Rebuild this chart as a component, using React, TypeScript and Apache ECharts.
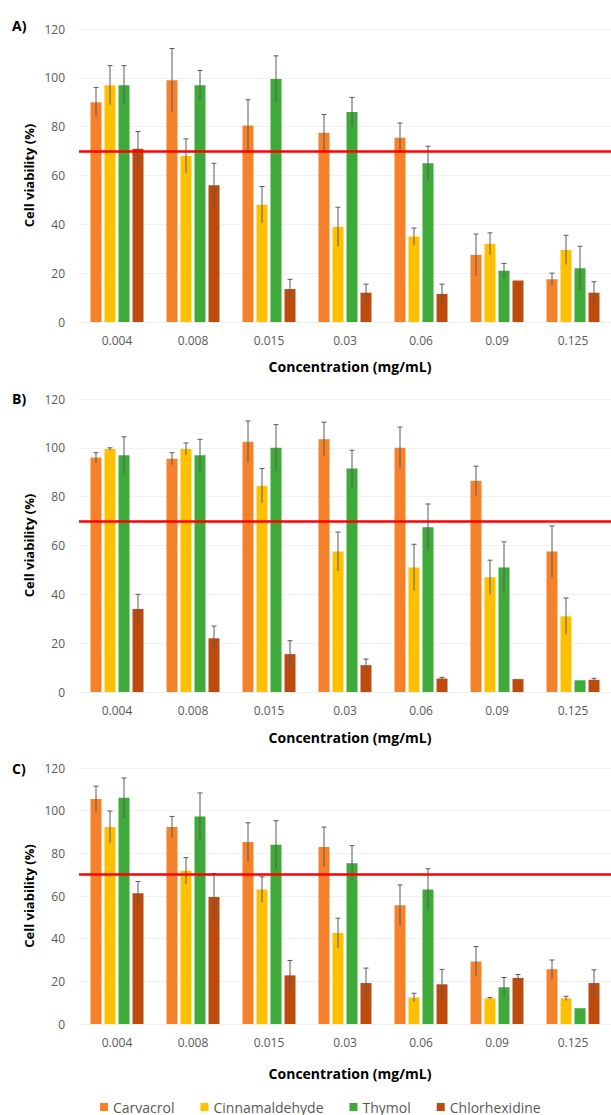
import React, { useEffect, useRef } from "react";
import * as echarts from "echarts";

const categories = ["0.004", "0.008", "0.015", "0.03", "0.06", "0.09", "0.125"];
const seriesNames = ["Carvacrol", "Cinnamaldehyde", "Thymol", "Chlorhexidine"];
const colors = ["#F5822A", "#FFC000", "#3DAA3A", "#BE4B0E"];
const threshold = 70;

// Panel A
const aCarvacrol = [90, 99, 80.5, 77.5, 75.5, 27.5, 17.5];
const aCarvacrolErr = [6, 13, 10.5, 7.5, 6, 8.5, 2.5];
const aCinnamaldehyde = [97, 68, 48, 39, 35, 32, 29.5];
const aCinnamaldehydeErr = [8, 7, 7.5, 8, 3.5, 4.5, 6];
const aThymol = [97, 97, 99.5, 86, 65, 21, 22];
const aThymolErr = [8, 6, 9.5, 6, 7, 3, 9];
const aChlorhexidine = [71, 56, 13.5, 12, 11.5, 17, 12];
const aChlorhexidineErr = [7, 9, 4, 3.5, 4, 0, 4.5];

// Panel B
const bCarvacrol = [96, 95.5, 102.5, 103.5, 100, 86.5, 57.5];
const bCarvacrolErr = [2, 2.5, 8.5, 7, 8.5, 6, 10.5];
const bCinnamaldehyde = [99.5, 99.5, 84.5, 57.5, 51, 47, 31];
const bCinnamaldehydeErr = [0.5, 2.5, 7, 8, 9.5, 7, 7.5];
const bThymol = [97, 97, 100, 91.5, 67.5, 51, 4.8];
const bThymolErr = [7.5, 6.5, 9.5, 7.5, 9.5, 10.5, 0];
const bChlorhexidine = [34, 22, 15.5, 11, 5.5, 5.3, 5];
const bChlorhexidineErr = [6, 5, 5.5, 2.5, 0.5, 0, 0.6];

// Panel C
const cCarvacrol = [105.5, 92.3, 85.3, 83, 55.7, 29.3, 25.7];
const cCarvacrolErr = [6, 5, 9, 9.3, 9.5, 7, 4.3];
const cCinnamaldehyde = [92.3, 71.8, 63, 42.6, 12.4, 12, 12];
const cCinnamaldehydeErr = [7.5, 6.2, 6, 7, 2, 0.4, 1];
const cThymol = [106, 97.3, 84, 75.4, 63, 17.2, 7.4];
const cThymolErr = [9.3, 11, 11.3, 8.2, 9.8, 4.6, 0];
const cChlorhexidine = [61.3, 59.5, 22.8, 19.2, 18.6, 21.6, 19.2];
const cChlorhexidineErr = [5.5, 11, 7, 7, 7, 1.6, 6.2];

const panelLabels = ["A)", "B)", "C)"];
const yTicks = { min: 0, max: 120, interval: 20 };
const xTitle = "Concentration (mg/mL)";
const yTitle = "Cell viability (%)";

const panels = [
  { values: [aCarvacrol, aCinnamaldehyde, aThymol, aChlorhexidine], errs: [aCarvacrolErr, aCinnamaldehydeErr, aThymolErr, aChlorhexidineErr] },
  { values: [bCarvacrol, bCinnamaldehyde, bThymol, bChlorhexidine], errs: [bCarvacrolErr, bCinnamaldehydeErr, bThymolErr, bChlorhexidineErr] },
  { values: [cCarvacrol, cCinnamaldehyde, cThymol, cChlorhexidine], errs: [cCarvacrolErr, cCinnamaldehydeErr, cThymolErr, cChlorhexidineErr] },
];

// layout (pixels)
const gridLayout = [
  { top: 29, height: 293 },
  { top: 399, height: 293 },
  { top: 768, height: 256 },
];
const xTitleY = [366, 737, 1073];
const panelLabelY = [25, 398, 768];
const BAR_W = 11;
const BAR_GAP = 3;

export default function App() {
  const ref = useRef<HTMLDivElement>(null);
  useEffect(() => {
    document.body.style.margin = "0";
    if (!ref.current) return;
    const chart = echarts.init(ref.current, undefined, { renderer: "svg" });
    const font = "'Open Sans', 'Liberation Sans', sans-serif";

    const grids = gridLayout.map((g) => ({ left: 79, right: -6, top: g.top, height: g.height }));
    const xAxes = gridLayout.map((_, i) => ({
      type: "category",
      gridIndex: i,
      data: categories,
      axisLine: { show: false },
      axisTick: { show: false },
      axisLabel: { color: "#595959", fontSize: 12, fontFamily: font, margin: 12 },
    }));
    const yAxes = gridLayout.map((_, i) => ({
      type: "value",
      gridIndex: i,
      min: yTicks.min,
      max: yTicks.max,
      interval: yTicks.interval,
      axisLine: { show: false },
      axisTick: { show: false },
      axisLabel: { color: "#595959", fontSize: 12, fontFamily: font, margin: 14 },
      splitLine: { show: true, lineStyle: { color: "#f1f1f1", width: 1 } },
    }));

    const series: any[] = [];
    const total = 4 * BAR_W + 3 * BAR_GAP;
    panels.forEach((p, pi) => {
      p.values.forEach((vals, si) => {
        series.push({
          type: "bar",
          name: seriesNames[si],
          xAxisIndex: pi,
          yAxisIndex: pi,
          data: vals,
          barWidth: BAR_W,
          barGap: `${(BAR_GAP / BAR_W) * 100}%`,
          itemStyle: { color: colors[si] },
          markLine:
            si === 0
              ? {
                  silent: true,
                  symbol: "none",
                  label: { show: false },
                  lineStyle: { color: "#FF0000", width: 2.5, type: "solid" },
                  data: [{ yAxis: threshold }],
                  z: 10,
                }
              : undefined,
        });
      });
      p.values.forEach((vals, si) => {
        const offset = -total / 2 + BAR_W / 2 + si * (BAR_W + BAR_GAP);
        series.push({
          type: "custom",
          name: seriesNames[si] + " err",
          xAxisIndex: pi,
          yAxisIndex: pi,
          z: 5,
          silent: true,
          data: vals.map((v, i) => [i, v, p.errs[si][i]]),
          encode: { x: 0, y: 1 },
          renderItem: (params: any, api: any) => {
            const idx = api.value(0);
            const v = api.value(1);
            const e = api.value(2);
            if (!e || e <= 0.1) return null;
            const c = api.coord([idx, v]);
            const x = c[0] + offset;
            const yTop = api.coord([idx, v + e])[1];
            const yBot = api.coord([idx, Math.max(0, v - e)])[1];
            const style = { stroke: "#5a5a5a", lineWidth: 1 };
            return {
              type: "group",
              children: [
                { type: "line", shape: { x1: x, y1: yTop, x2: x, y2: yBot }, style },
                { type: "line", shape: { x1: x - 2.5, y1: yTop, x2: x + 2.5, y2: yTop }, style },
              ],
            };
          },
        });
      });
    });

    const graphics: any[] = [];
    gridLayout.forEach((g, i) => {
      graphics.push({
        type: "text",
        x: 12,
        y: panelLabelY[i],
        style: { text: panelLabels[i], font: `bold 14px ${font}`, fill: "#000", align: "left", verticalAlign: "middle", textAlign: "left", textVerticalAlign: "middle" },
      });
      graphics.push({
        type: "text",
        x: 29,
        y: g.top + g.height / 2,
        rotation: Math.PI / 2,
        style: { text: yTitle, font: `bold 13px ${font}`, fill: "#000", align: "center", verticalAlign: "middle", textAlign: "center", textVerticalAlign: "middle" },
      });
      graphics.push({
        type: "text",
        x: 350,
        y: xTitleY[i],
        style: { text: xTitle, font: `bold 14px ${font}`, fill: "#000", align: "center", verticalAlign: "middle", textAlign: "center", textVerticalAlign: "middle" },
      });
    });

    chart.setOption({
      animation: false,
      backgroundColor: "#ffffff",
      grid: grids,
      xAxis: xAxes,
      yAxis: yAxes,
      legend: {
        data: seriesNames,
        left: 100,
        top: 1100,
        padding: 0,
        itemWidth: 8,
        itemHeight: 8,
        itemGap: 26,
        icon: "rect",
        textStyle: { color: "#595959", fontSize: 14, lineHeight: 14, fontFamily: font },
      },
      graphic: graphics,
      series,
    });
    return () => chart.dispose();
  }, []);
  return <div ref={ref} style={{ width: 611, height: 1115 }} />;
}
